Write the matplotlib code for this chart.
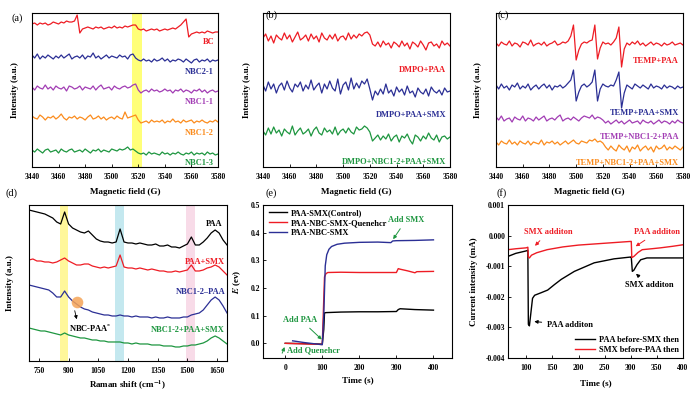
import numpy as np
import matplotlib.pyplot as plt

plt.rcParams['font.family'] = ['Liberation Serif', 'DejaVu Serif']
plt.rcParams['font.weight'] = 'bold'
plt.rcParams['axes.labelweight'] = 'bold'
plt.rcParams['mathtext.fontset'] = 'stix'
plt.rcParams['axes.linewidth'] = 0.8

RED = '#ee1c24'
BLUE = '#2b2f95'
PURPLE = '#a23db4'
ORANGE = '#fb8c1e'
GREEN = '#1e9640'

# ---- EPR spectra, one value every 2 G from 3440 to 3580 G ----
field = np.arange(3440, 3581, 2)

bc = [0, 1, -1, 1, 0, 1, -1, 0, 2, 1, 0, 2, 1, 3, 2, 2, 3,
      9, -9,
      -5, -4, -3, -4, -5, -3, -4, -3, -5, -4, -3, -4, -2, -4, -3, -4, -2, -3, -2, -1, -1,
      -5,
      -6, -5, -7, -6, -5, -6, -5, -7, -6, -5, -6, -5, -4, -5, -3, -1, 2,
      5, -13,
      -10, -9, -8, -9, -8, -9, -7, -8, -9, -8, -8]
nbc2_1 = [2, -1, 3, -2, 1, -1, 2, 0, -2, 1, -1, 2, -1, 1, 3, -2, 0, 1, -1, 2, -2, 1, 0, 4, -1,
          1, -2, 0, 2, -1, 1, 0, -1, 2, 0, 1, -2, 2, 3,
          -1, -3, -4, -2, -4, -3, -5, -2, -4, -3, -1, -4, -2, -5, -3, -4, -2, -3, -5, -2, -4,
          -6, -3, -2, -5, -3, -4, -2, -5, -3, -4, -3]
nbc1_1 = [1, -2, 2, 0, -1, 3, -1, 1, -2, 2, 0, -1, 1, -3, 2, 1, -1, 0, 2, -2, 1, 0, -1, 2, -2,
          1, 3, -1, 0, 1, -2, 2, 0, -1, 1, 2, 0, 1,
          3, 4, -2, -5,
          -3, -2, -4, -1, -3, -2, -4, -3, -1, -3, -2, -5, -2, -3, -1, -4, -2, -3, -5, -2, -3,
          -1, -4, -2, -5, -3, -2, -4, -3]
nbc1_2 = [2, 0, -1, 3, 1, -2, 1, 0, 2, -1, 1, 4, 0, -2, 1, 0, 2, -1, 1, 0, -2, 1, 3, -1, 0,
          2, -1, 1, -2, 0, 1, -1, 2, 0, -1,
          6, 0, 1, 2, 3, -2, -5,
          -4, -3, -5, -2, -4, -3, -4, -2, -5, -3, -4, -1, -4, -3, -5, -2, -4, -3, -2, -5, -3,
          -4, -2, -4, -5, -3, -4, -2, -4]
nbc1_3 = [1, -1, 2, 0, -2, 1, 2, -1, 0, 1, -2, 2, 0, -1, 1, 2, -1, 0, 1, -1, 2, 0, -2, 1, 0,
          2, -1, 1, 0, -1, 2, 1, 0, 2, 1, 2,
          4, 1, 2, 0, -2,
          -3, -2, -4, -1, -3, -2, -3, -4, -1, -3, -2, -4, -2, -3, -1, -3, -4, -2, -3, -1, -4,
          -2, -3, -2, -4, -1, -3, -2, -4, -3]

dmpo_paa = [0, 4, -3, 2, -5, 3, 0, -2, 5, -1, 3, -4, 1, 6, -2, 0, 3, -3, 4, -1, 2, -4, 5, 0,
            -2, 3, -1, 4, -3, 1, 2, -2, 5, -1, 3, 0, 4, 2, 5, 6,
            3, -6,
            -8, -4, -9, -3, -7, -5, -10, -4, -6, -9, -3, -8, -5, -11, -4, -6, -9, -3, -7, -12,
            -5, -4, -8, -6, -10, -3, -7, -5, -8]
dmpo_paa_smx = [2, -4, 5, -2, 3, -6, 1, 4, -3, 6, -1, -5, 3, 0, 5, -4, 2, -2, 7, -3, 1, 4, -6,
                3, -2, 6, -1, -4, 8, -7, 2, 5, -3, 9, -2, 4, -1, 6, 3,
                8, -2, -13,
                -4, -8, -2, -7, 3, -6, -3, -9, 0, -5, -2, -8, 1, -6, -4, -10, -1, -5, -7, -2,
                -9, 0, -4, -6, -3, -8, -1, -5, -4]
dmpo_nbc = [1, -3, 4, -2, 5, -1, 2, -4, 3, 0, -2, 6, -3, 1, 4, -2, 0, 3, -4, 2, 5, -1, -3, 4,
            0, 2, -2, 5, -3, 1, 3, -1, 4, 0, -2, 5, 2, 3, 6, 4,
            0, -9, -6,
            -3, -8, -4, -7, -2, -9, -5, -3, -10, -4, -6, -2, -8, -12, -3, -5, -9, -4, -7, -1,
            -6, -8, -3, -10, -5, -4, -7, -5]

temp_paa = [1, -2, 2, 0, -1, 3, -2, 1, 0, -3, 2, 1, -1, 4, -2, 0, 1, -1, 2, -2, 0, 1, 3, -1,
            0, 2, 1, 3,
            8, 19, -16, -6,
            0, 2, 1, 3, 4,
            19, -15,
            -4, 2, 0, 1, -1, 2, 6,
            17, -23,
            -5, 1, -1, 2, 0, 3, -1, 1, -2, 0, 2, -1, 1, 0, -2, 1, -1, 0, 2, -1, 0, 1, -1]
temp_paa_smx = [2, -2, 3, -1, 1, -3, 2, 0, 4, -2, 1, -1, 3, -3, 0, 2, -2, 1, 3, -1, 2, -3, 1,
                0, 2, -1, 1, 4,
                7, 17, -14, -5,
                1, 3, 0, 2, 5,
                17, -14,
                -2, 3, 1, 0, 2, 1, 7,
                15, -21,
                -6, 2, 0, -2, 3, 1, -1, 2, 0, -2, 3, -1, 1, 0, -2, 2, -1, 1, 0, -2, 1, -1, 0]
temp_nbc_paa = [2, -1, 3, -2, 0, 1, -3, 2, 0, -1, 3, -2, 1, 0, -2, 2, -1, 1, 3, -2, 0, 1, -1,
                2, 4, -2, 0, 1, -1, 2, 0, -2, 1, 3, 2, 1, 4, 0, 2, 1,
                -1, -4, -2, -5, -3, -1, -4, -2, -5, -3, -1, -4, -3, -2, -5, -1, -3, -4, -2, -5,
                -3, -1, -4, -2, -3, -5, -2, -4, -1, -3, -4]
temp_nbc_paa_smx = [1, -2, 2, 0, -1, 3, -1, 1, -2, 2, 0, -1, 2, -2, 1, 0, -1, 3, -2, 1, 0, 2,
                    -1, 1, -2, 0, 2, -1, 1, 3, 0, -1, 2, 1, 0, 3, 2, 4, 1, 2, 0,
                    -4, -7, -3, -6, -8, -2, -5, -7, -3, -9, -4, -6, -2, -8, -5, -3, -7, -4, -9,
                    -3, -6, -5, -2, -7, -4, -6, -3, -5, -7, -4]

# ---- Raman spectra, one value every 20 cm-1 from 700 to 1700 ----
shift = np.arange(700, 1701, 20)
raman_paa = [151, 150, 149, 148, 147, 145, 143, 139, 137, 149, 137, 133, 131, 129, 128, 130,
             126, 122, 120, 119, 119, 118, 119, 132, 119, 118, 118, 117, 118, 117, 116, 116,
             117, 115, 115, 116, 114, 114, 113, 115, 117, 124, 116, 116, 119, 123, 128, 131,
             128, 121, 116]
raman_paa_smx = [101, 102, 100, 100, 99, 99, 98, 99, 101, 103, 100, 98, 96, 96, 97, 97, 95, 94,
                 93, 94, 93, 94, 95, 106, 94, 93, 93, 92, 93, 92, 91, 92, 91, 90, 90, 89, 89,
                 90, 89, 90, 91, 96, 90, 90, 91, 93, 94, 96, 94, 90, 86]
raman_nbc_paa = [76, 75, 74, 73, 72, 71, 68, 64, 64, 70, 64, 60, 57, 54, 52, 51, 49, 48, 47, 46,
                 46, 45, 45, 46, 45, 45, 44, 45, 44, 44, 44, 43, 44, 43, 43, 44, 43, 43, 43, 44,
                 44, 46, 47, 48, 51, 56, 61, 64, 61, 55, 48]
raman_nbc_paa_smx = [33, 32, 31, 30, 30, 29, 28, 27, 26, 28, 26, 25, 24, 23, 23, 22, 21, 21, 20,
                     20, 19, 19, 19, 19, 18, 18, 17, 18, 17, 17, 17, 16, 16, 16, 15, 15, 15, 14,
                     14, 15, 15, 16, 16, 17, 18, 20, 23, 25, 23, 20, 17]

# ---- (e) open-circuit potential ----
t_ctrl = [0, 50, 100, 104, 106, 110, 150, 200, 250, 300, 305, 310, 350, 400]
e_ctrl = [0.0, -0.001, -0.003, 0.05, 0.11, 0.111, 0.113, 0.114, 0.114, 0.115, 0.122, 0.125,
          0.122, 0.12]
t_quench = [0, 50, 100, 103, 106, 110, 115, 150, 200, 250, 300, 305, 310, 330, 350, 355, 400]
e_quench = [0.0, -0.002, -0.004, 0.12, 0.24, 0.252, 0.256, 0.257, 0.256, 0.256, 0.256, 0.27,
            0.268, 0.262, 0.255, 0.259, 0.26]
t_nbc = [20, 50, 100, 104, 108, 112, 118, 125, 140, 160, 200, 250, 285, 290, 300, 350, 400]
e_nbc = [0.009, 0.003, -0.005, 0.10, 0.28, 0.32, 0.34, 0.35, 0.358, 0.362, 0.365, 0.366, 0.364,
         0.370, 0.371, 0.372, 0.374]

# ---- (f) current ----
t_paa_first = [65, 80, 100, 103, 104, 106, 109, 112, 116, 128, 141, 154, 167, 192, 230, 268,
               300, 301, 303, 306, 312, 319, 331, 360, 400]
i_paa_first = [-0.00068, -0.00058, -0.00050, -0.00048, -0.0029, -0.00295, -0.0025, -0.00205,
               -0.00195, -0.00187, -0.00178, -0.0016, -0.00143, -0.00117, -0.00089, -0.00076,
               -0.0007, -0.0007, -0.00117, -0.00113, -0.00095, -0.00079, -0.00073, -0.00073,
               -0.00073]
t_smx_first = [65, 80, 100, 103, 104, 106, 110, 120, 140, 170, 200, 250, 300, 301, 302, 306,
               314, 322, 340, 357, 380, 400]
i_smx_first = [-0.00046, -0.00043, -0.0004, -0.00038, -0.0007, -0.00073, -0.00064, -0.00056,
               -0.00046, -0.00037, -0.00031, -0.00025, -0.00019, -0.00019, -0.00072, -0.00068,
               -0.00055, -0.00046, -0.00043, -0.0004, -0.00035, -0.0003]

fig = plt.figure(figsize=(7, 3.94), dpi=100)


def style(ax, xlab, ylab, ylab_x, xlab_y):
    ax.tick_params(direction='in', length=2.5, width=0.6, labelsize=5.5, pad=2)
    ax.tick_params(axis='x', pad=4)
    ax.set_xlabel(xlab, fontsize=6.5)
    ax.set_ylabel(ylab, fontsize=6.5)
    ax.xaxis.set_label_coords(0.5, xlab_y)
    ax.yaxis.set_label_coords(ylab_x, 0.5)
    ax.xaxis.label.set_va('center')
    ax.yaxis.label.set_va('center')


def epr_panel(rect, traces, offsets, colors, labels, label_y, band=None):
    ax = fig.add_axes(rect)
    if band:
        ax.axvspan(band[0], band[1], color='#ffff78', lw=0, zorder=0)
    for tr, off, c in zip(traces, offsets, colors):
        ax.plot(field, off + np.array(tr), color=c, lw=0.9)
    for lab, ly, c in zip(labels, label_y, colors):
        ax.text(3577, ly, lab, color=c, ha='right', va='center', fontsize=6)
    ax.set_xlim(3440, 3580)
    ax.set_ylim(0, 154)
    ax.set_xticks(range(3440, 3581, 20))
    ax.set_yticks([])
    return ax


ax = epr_panel([0.0457, 0.5761, 0.2657, 0.3909],
               [bc, nbc2_1, nbc1_1, nbc1_2, nbc1_3], [143, 110, 79, 49, 16],
               [RED, BLUE, PURPLE, ORANGE, GREEN],
               ['BC', 'NBC2-1', 'NBC1-1', 'NBC1-2', 'NBC1-3'], [125, 95, 65, 34, 4],
               band=(3515, 3523))
style(ax, 'Magnetic field (G)', 'Intensity (a.u.)', -0.091, -0.162)

ax = epr_panel([0.3757, 0.5761, 0.2671, 0.3909],
               [dmpo_paa, dmpo_paa_smx, dmpo_nbc], [129, 80, 35], [RED, BLUE, GREEN],
               ['DMPO+PAA', 'DMPO+PAA+SMX', 'DMPO+NBC1-2+PAA+SMX'], [97, 52, 5])
style(ax, 'Magnetic field (G)', 'Intensity (a.u.)', -0.086, -0.162)

ax = epr_panel([0.7086, 0.5761, 0.2671, 0.3909],
               [temp_paa, temp_paa_smx, temp_nbc_paa, temp_nbc_paa_smx], [123, 80, 48, 24],
               [RED, BLUE, PURPLE, ORANGE],
               ['TEMP+PAA', 'TEMP+PAA+SMX', 'TEMP+NBC1-2+PAA', 'TEMP+NBC1-2+PAA+SMX'],
               [106, 54, 30, 4])
style(ax, 'Magnetic field (G)', 'Intensity (a.u.)', -0.096, -0.162)

# (d) Raman
ax = fig.add_axes([0.0414, 0.0838, 0.2829, 0.3959])
ax.axvspan(856, 897, color='#fff79a', lw=0, zorder=0)
ax.axvspan(1132, 1178, color='#c4e8ef', lw=0, zorder=0)
ax.axvspan(1491, 1537, color='#f8dbe8', lw=0, zorder=0)
for tr, c in zip([raman_paa, raman_paa_smx, raman_nbc_paa, raman_nbc_paa_smx],
                 ['black', RED, BLUE, GREEN]):
    ax.plot(shift, tr, color=c, lw=0.9)
for lab, xl, yl, c in zip(['PAA', 'PAA+SMX', 'NBC1-2–PAA', 'NBC1-2+PAA+SMX'],
                          [1674, 1690, 1690, 1690], [137, 99, 69, 31],
                          ['black', RED, BLUE, GREEN]):
    ax.text(xl, yl, lab, color=c, ha='right', va='center', fontsize=6)
ax.scatter([940], [59], s=70, color='#f5a457', alpha=0.85, lw=0, zorder=3)
ax.annotate('', xy=(944, 39), xytext=(928, 53),
            arrowprops=dict(arrowstyle='-|>', color='black', lw=0.6, mutation_scale=5))
ax.text(1010, 33, 'NBC-PAA$^{*}$', ha='center', va='center', fontsize=6)
ax.set_xlim(700, 1700)
ax.set_ylim(0, 156)
ax.set_xticks(range(750, 1651, 150))
ax.set_yticks([])
style(ax, 'Raman shift (cm$^{-1}$)', 'Intensity (a.u.)', -0.096, -0.16)

# (e) potential
ax = fig.add_axes([0.3757, 0.0914, 0.27, 0.3883])
ax.plot(t_ctrl, e_ctrl, color='black', lw=1.0, label='PAA-SMX(Control)')
ax.plot(t_quench, e_quench, color=RED, lw=1.0, label='PAA-NBC-SMX-Quenehcr')
ax.plot(t_nbc, e_nbc, color=BLUE, lw=1.0, label='PAA-NBC-SMX')
ax.set_xlim(-60, 450)
ax.set_ylim(-0.053, 0.5)
ax.set_xticks([0, 100, 200, 300, 400])
ax.set_yticks([0.0, 0.1, 0.2, 0.3, 0.4, 0.5])
ax.set_yticklabels(['0.0', '0.1', '0.2', '0.3', '0.4', '0.5'])
ax.legend(loc='upper left', bbox_to_anchor=(0.01, 1.0), frameon=False, fontsize=6,
          handlelength=2.2, labelspacing=0.25, borderaxespad=0.1, handletextpad=0.4)
arrow_g = dict(arrowstyle='-|>', color=GREEN, lw=0.7, mutation_scale=5)
ax.annotate('Add SMX', xy=(287, 0.368), xytext=(327, 0.447), color=GREEN, fontsize=6,
            ha='center', va='center', arrowprops=arrow_g)
ax.annotate('Add PAA', xy=(104, 0.007), xytext=(41, 0.086), color=GREEN, fontsize=6,
            ha='center', va='center', arrowprops=arrow_g)
ax.annotate('', xy=(1, -0.004), xytext=(-11, -0.045), arrowprops=arrow_g)
ax.text(4, -0.026, 'Add Quenehcr', color=GREEN, fontsize=6, ha='left', va='center')
style(ax, 'Time (s)', '$E$ (ev)', -0.138, -0.144)

# (f) current
ax = fig.add_axes([0.7257, 0.0914, 0.25, 0.3883])
ax.plot(t_paa_first, i_paa_first, color='black', lw=1.0, label='PAA before-SMX then')
ax.plot(t_smx_first, i_smx_first, color=RED, lw=1.0, label='SMX before-PAA then')
ax.set_xlim(65, 400)
ax.set_ylim(-0.004, 0.001)
ax.set_xticks([100, 150, 200, 250, 300, 350, 400])
ax.set_yticks([0.001, 0.0, -0.001, -0.002, -0.003, -0.004])
ax.set_yticklabels(['0.001', '0.000', '-0.001', '-0.002', '-0.003', '-0.004'])
ax.legend(loc='lower right', bbox_to_anchor=(1.0, 0.0), frameon=False, fontsize=6,
          handlelength=2.4, labelspacing=0.25, borderaxespad=0.1, handletextpad=0.4)
arrow_r = dict(arrowstyle='-|>', color=RED, lw=0.7, mutation_scale=5)
arrow_k = dict(arrowstyle='-|>', color='black', lw=0.7, mutation_scale=5)
ax.annotate('SMX additon', xy=(113, -0.0004), xytext=(142, 0.00012), color=RED, fontsize=6,
            ha='center', va='center', arrowprops=arrow_r)
ax.annotate('PAA additon', xy=(305, -0.0004), xytext=(351, 0.00012), color=RED, fontsize=6,
            ha='center', va='center', arrowprops=arrow_r)
ax.annotate('SMX additon', xy=(306, -0.00119), xytext=(335, -0.00162), fontsize=6,
            ha='center', va='center', arrowprops=arrow_k)
ax.annotate('PAA additon', xy=(110, -0.0028), xytext=(140, -0.00292), fontsize=6,
            ha='left', va='center', arrowprops=arrow_k)
style(ax, 'Time (s)', 'Current intensity (mA)', -0.194, -0.163)

for lab, x, y in [('(a)', 17, 18), ('(b)', 272, 15), ('(c)', 503, 15),
                  ('(d)', 12, 193), ('(e)', 271, 193), ('(f)', 502, 193)]:
    fig.text(x / 700, 1 - y / 394, lab, fontsize=7.5, fontweight='normal',
             ha='center', va='center')

fig.savefig('out.png', dpi=100)
